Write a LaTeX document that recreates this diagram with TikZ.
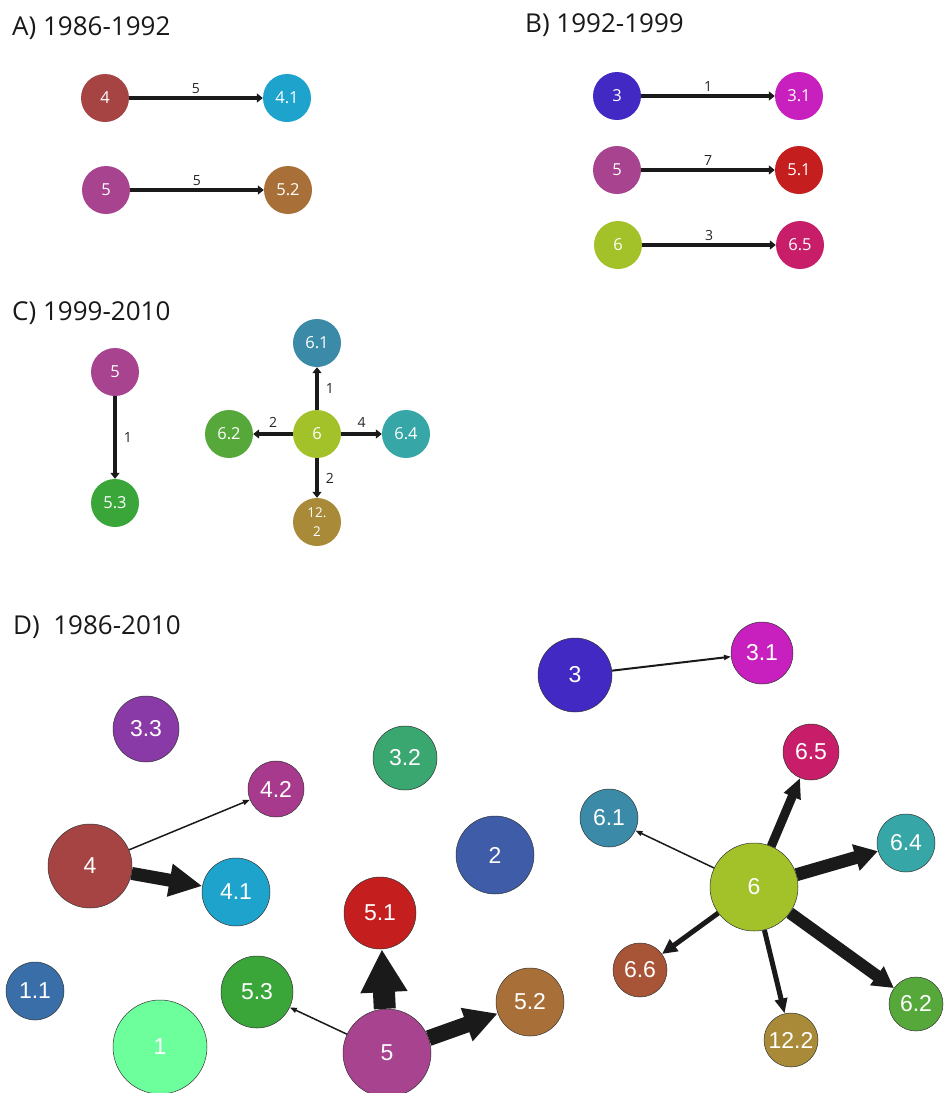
\documentclass[tikz,border=0pt]{standalone}
\usepackage{fontspec}
\setmainfont{Open Sans}
\newfontfamily\dfont{Liberation Sans}
\usetikzlibrary{arrows.meta}
\definecolor{cFour}{HTML}{A64444}
\definecolor{cFourOne}{HTML}{1EA3CC}
\definecolor{cFourTwo}{HTML}{A83A8E}
\definecolor{cFive}{HTML}{A8438F}
\definecolor{cFiveOne}{HTML}{C51E1E}
\definecolor{cFiveTwo}{HTML}{A87038}
\definecolor{cFiveThree}{HTML}{3AA63A}
\definecolor{cThree}{HTML}{4329C4}
\definecolor{cThreeOne}{HTML}{C820BE}
\definecolor{cThreeTwo}{HTML}{3AA670}
\definecolor{cThreeThree}{HTML}{8A3AA6}
\definecolor{cSix}{HTML}{A3C22A}
\definecolor{cSixOne}{HTML}{3A8AA8}
\definecolor{cSixTwo}{HTML}{56A83A}
\definecolor{cSixFour}{HTML}{36A6A6}
\definecolor{cSixFive}{HTML}{C81E6A}
\definecolor{cSixSix}{HTML}{A85436}
\definecolor{cTwelve}{HTML}{A88A38}
\definecolor{cTwo}{HTML}{3F5CA8}
\definecolor{cOneOne}{HTML}{3A6EA8}
\definecolor{cOne}{HTML}{6CFF9C}
\definecolor{edgecol}{HTML}{1A1A1A}
\tikzset{
  ptitle/.style={anchor=base west, inner sep=0pt, text=black!90, font=\fontsize{26}{26}\selectfont},
  small/.style={circle, minimum size=48pt, inner sep=0pt, text=white, font=\fontsize{16.5}{16.5}\selectfont},
  big/.style={circle, draw=black!80, line width=0.5pt, inner sep=0pt, text=white, font=\dfont\fontsize{23}{23}\selectfont},
  sedge/.style={draw=edgecol, line width=3.5pt, -{Triangle[length=6pt,width=9pt]}},
  elab/.style={inner sep=0pt, text=black!85, font=\fontsize{14}{14}\selectfont},
  dedge/.style={draw=edgecol}
}
\begin{document}
\begin{tikzpicture}[x=1pt,y=-1pt]
\useasboundingbox[fill=white] (0,0) rectangle (943,1093);
% ---------- titles
\node[ptitle] (tA) at (12,35) {A) 1986-1992};
\node[ptitle] (tB) at (525,32) {B) 1992-1999};
\node[ptitle] (tC) at (12,320) {C) 1999-2010};
\node[ptitle] (tD) at (13,634) {D)\ \ 1986-2010};
% ---------- panel A
\node[small, fill=cFour] (a4) at (105,98) {4};
\node[small, fill=cFourOne] (a41) at (287,98) {4.1};
\node[small, fill=cFive] (a5) at (106,190) {5};
\node[small, fill=cFiveTwo] (a52) at (288,190) {5.2};
\draw[sedge] (a4) -- node[elab, above=3pt] {5} (a41);
\draw[sedge] (a5) -- node[elab, above=3pt] {5} (a52);
% ---------- panel B
\node[small, fill=cThree] (b3) at (617,96) {3};
\node[small, fill=cThreeOne] (b31) at (799,96) {3.1};
\node[small, fill=cFive] (b5) at (617,170) {5};
\node[small, fill=cFiveOne] (b51) at (799,170) {5.1};
\node[small, fill=cSix] (b6) at (618,245) {6};
\node[small, fill=cSixFive] (b65) at (800,245) {6.5};
\draw[sedge] (b3) -- node[elab, above=3pt] {1} (b31);
\draw[sedge] (b5) -- node[elab, above=3pt] {7} (b51);
\draw[sedge] (b6) -- node[elab, above=3pt] {3} (b65);
% ---------- panel C
\node[small, fill=cFive] (c5) at (115,372) {5};
\node[small, fill=cFiveThree] (c53) at (115,503) {5.3};
\node[small, fill=cSix] (c6) at (317,434) {6};
\node[small, fill=cSixOne] (c61) at (317,343) {6.1};
\node[small, fill=cSixTwo] (c62) at (229,434) {6.2};
\node[small, fill=cSixFour] (c64) at (406,434) {6.4};
\node[small, fill=cTwelve, align=center, font=\fontsize{13.5}{19}\selectfont] (c122) at (317,522) {12.\\2};
\draw[sedge] (c5) -- node[elab, right=7pt] {1} (c53);
\draw[sedge] (c6) -- node[elab, right=7pt] {1} (c61);
\draw[sedge] (c6) -- node[elab, above=5pt] {2} (c62);
\draw[sedge] (c6) -- node[elab, above=5pt] {4} (c64);
\draw[sedge] (c6) -- node[elab, right=7pt] {2} (c122);
% ---------- panel D
\node[big, fill=cThreeThree, minimum size=66pt] (d33) at (146,729) {3.3};
\node[big, fill=cThreeTwo, minimum size=64pt] (d32) at (405,758) {3.2};
\node[big, fill=cFourTwo, minimum size=56pt] (d42) at (276,789) {4.2};
\node[big, fill=cFour, minimum size=84pt] (d4) at (90,866) {4};
\node[big, fill=cFourOne, minimum size=68pt] (d41) at (236,892) {4.1};
\node[big, fill=cTwo, minimum size=78pt] (d2) at (495,855) {2};
\node[big, fill=cFiveOne, minimum size=72pt] (d51) at (380,913) {5.1};
\node[big, fill=cOneOne, minimum size=58pt] (d11) at (35,991) {1.1};
\node[big, fill=cFiveThree, minimum size=72pt] (d53) at (257,992) {5.3};
\node[big, fill=cOne, minimum size=94pt] (d1) at (160,1047) {1};
\node[big, fill=cFive, minimum size=88pt] (d5) at (387,1053) {5};
\node[big, fill=cFiveTwo, minimum size=68pt] (d52) at (530,1002) {5.2};
\node[big, fill=cThree, minimum size=74pt] (d3) at (575,675) {3};
\node[big, fill=cThreeOne, minimum size=62pt] (d31) at (762,653) {3.1};
\node[big, fill=cSixFive, minimum size=56pt] (d65) at (811,752) {6.5};
\node[big, fill=cSixOne, minimum size=58pt] (d61) at (609,818) {6.1};
\node[big, fill=cSixFour, minimum size=58pt] (d64) at (906,843) {6.4};
\node[big, fill=cSix, minimum size=88pt] (d6) at (754,887) {6};
\node[big, fill=cSixSix, minimum size=54pt] (d66) at (640,970) {6.6};
\node[big, fill=cTwelve, minimum size=54pt] (d122) at (791,1040) {12.2};
\node[big, fill=cSixTwo, minimum size=54pt] (d62) at (916,1004) {6.2};
% D edges
\draw[dedge, line width=1.5pt, -{Triangle[length=7pt,width=5pt]}] (d4) -- (d42);
\draw[dedge, line width=13pt, -{Triangle[length=33pt,width=31pt]}] (d4) -- (d41);
\draw[dedge, line width=1.5pt, -{Triangle[length=7pt,width=5pt]}] (d5) -- (d53);
\draw[dedge, line width=22pt, -{Triangle[length=43pt,width=44pt]}] (d5) -- (d51);
\draw[dedge, line width=16pt, -{Triangle[length=33pt,width=33pt]}] (d5) -- (d52);
\draw[dedge, line width=2pt, -{Triangle[length=7pt,width=5pt]}] (d3) -- (d31);
\draw[dedge, line width=1.5pt, -{Triangle[length=7pt,width=5pt]}] (d6) -- (d61);
\draw[dedge, line width=9pt, -{Triangle[length=20pt,width=17pt]}] (d6) -- (d65);
\draw[dedge, line width=13pt, -{Triangle[length=23pt,width=26pt]}] (d6) -- (d64);
\draw[dedge, line width=5pt, -{Triangle[length=15pt,width=14pt]}] (d6) -- (d66);
\draw[dedge, line width=5pt, -{Triangle[length=15pt,width=12pt]}] (d6) -- (d122);
\draw[dedge, line width=12pt, -{Triangle[length=21pt,width=22pt]}] (d6) -- (d62);
\end{tikzpicture}
\end{document}
